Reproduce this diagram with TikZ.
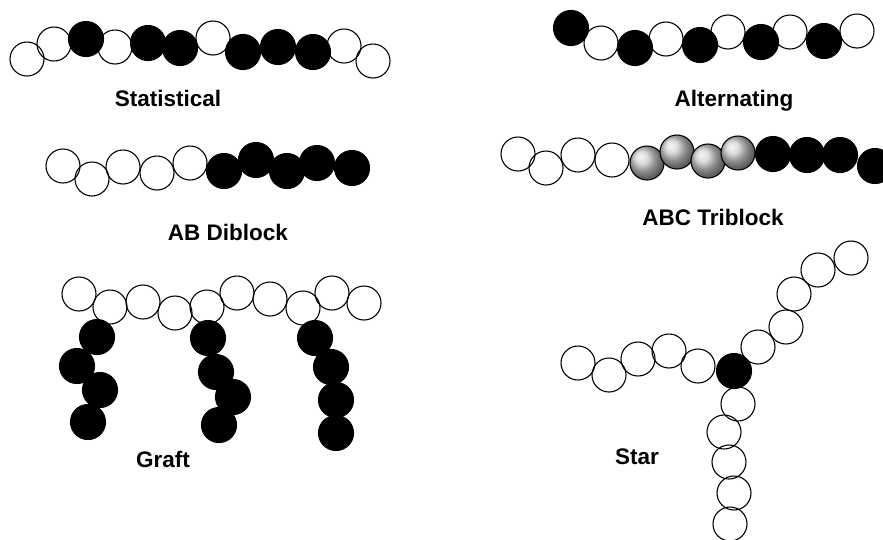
\documentclass[tikz,border=0pt]{standalone}
\usepackage{fontspec}
\setmainfont{Liberation Sans}
\tikzset{
  mono/.style={circle, draw=black, line width=1.1pt, minimum size=34pt, inner sep=0pt},
  wb/.style={mono},
  bb/.style={mono, fill=black, minimum size=35pt},
  gb/.style={mono, shading=ball, ball color=gray!38},
  lbl/.style={anchor=base, inner sep=0pt, font=\fontsize{22.5}{27}\selectfont\bfseries}
}
\begin{document}
\begin{tikzpicture}[x=1pt, y=-1pt]
\useasboundingbox (0,0) rectangle (883,539);

% Statistical copolymer
\node[wb] (s1) at (27,59) {};
\node[wb] (s2) at (54,44) {};
\node[bb] (s3) at (86,39) {};
\node[wb] (s4) at (115,47) {};
\node[bb] (s5) at (148,43) {};
\node[bb] (s6) at (180,48) {};
\node[wb] (s7) at (213,38) {};
\node[bb] (s8) at (243,52) {};
\node[bb] (s9) at (278,47) {};
\node[bb] (s10) at (313,52) {};
\node[wb] (s11) at (344,46) {};
\node[wb] (s12) at (373,61) {};
\node[lbl] (tstat) at (168,106) {Statistical};

% Alternating copolymer
\node[bb] (a1) at (571,28) {};
\node[wb] (a2) at (601,43) {};
\node[bb] (a3) at (635,48) {};
\node[wb] (a4) at (666,39) {};
\node[bb] (a5) at (700,45) {};
\node[wb] (a6) at (728,32) {};
\node[bb] (a7) at (761,42) {};
\node[wb] (a8) at (790,32) {};
\node[bb] (a9) at (824,41) {};
\node[wb] (a10) at (857,31) {};
\node[lbl] (talt) at (734,106) {Alternating};

% AB diblock
\node[wb] (d1) at (63,166) {};
\node[wb] (d2) at (92,179) {};
\node[wb] (d3) at (123,167) {};
\node[wb] (d4) at (157,173) {};
\node[wb] (d5) at (190,163) {};
\node[bb] (d6) at (224,171) {};
\node[bb] (d7) at (256,160) {};
\node[bb] (d8) at (287,171) {};
\node[bb] (d9) at (317,163) {};
\node[bb] (d10) at (352,168) {};
\node[lbl] (tdi) at (228,240) {AB Diblock};

% ABC triblock
\node[wb] (t1) at (518,154) {};
\node[wb] (t2) at (546,168) {};
\node[wb] (t3) at (578,155) {};
\node[wb] (t4) at (612,160) {};
\node[gb] (t5) at (647,163) {};
\node[gb] (t6) at (677,152) {};
\node[gb] (t7) at (708,161) {};
\node[gb] (t8) at (738,153) {};
\node[bb] (t9) at (773,154) {};
\node[bb] (t10) at (807,155) {};
\node[bb] (t11) at (840,155) {};
\node[bb] (t12) at (875,166) {};
\node[lbl] (ttri) at (713,225) {ABC Triblock};

% Graft copolymer: backbone
\node[wb] (g1) at (79,294) {};
\node[wb] (g2) at (110,307) {};
\node[wb] (g3) at (143,302) {};
\node[wb] (g4) at (175,313) {};
\node[wb] (g5) at (207,307) {};
\node[wb] (g6) at (237,293) {};
\node[wb] (g7) at (270,299) {};
\node[wb] (g8) at (303,308) {};
\node[wb] (g9) at (332,293) {};
\node[wb] (g10) at (364,303) {};
% Graft copolymer: side chains
\node[bb] (ga1) at (97,337) {};
\node[bb] (ga2) at (77,366) {};
\node[bb] (ga3) at (100,390) {};
\node[bb] (ga4) at (88,422) {};
\node[bb] (gb1) at (208,338) {};
\node[bb] (gb2) at (216,372) {};
\node[bb] (gb3) at (233,397) {};
\node[bb] (gb4) at (219,425) {};
\node[bb] (gc1) at (315,338) {};
\node[bb] (gc2) at (331,367) {};
\node[bb] (gc3) at (336,400) {};
\node[bb] (gc4) at (336,433) {};
\node[lbl] (tgraft) at (163,467) {Graft};

% Star polymer: core and three arms
\node[bb] (core) at (734,371) {};
\node[wb] (l1) at (698,366) {};
\node[wb] (l2) at (669,351) {};
\node[wb] (l3) at (638,359) {};
\node[wb] (l4) at (609,375) {};
\node[wb] (l5) at (578,363) {};
\node[wb] (u1) at (758,347) {};
\node[wb] (u2) at (786,327) {};
\node[wb] (u3) at (794,294) {};
\node[wb] (u4) at (818,270) {};
\node[wb] (u5) at (851,258) {};
\node[wb] (v1) at (738,404) {};
\node[wb] (v2) at (724,432) {};
\node[wb] (v3) at (729,462) {};
\node[wb] (v4) at (734,493) {};
\node[wb] (v5) at (730,524) {};
\node[lbl] (tstar) at (637,464) {Star};
\end{tikzpicture}
\end{document}
